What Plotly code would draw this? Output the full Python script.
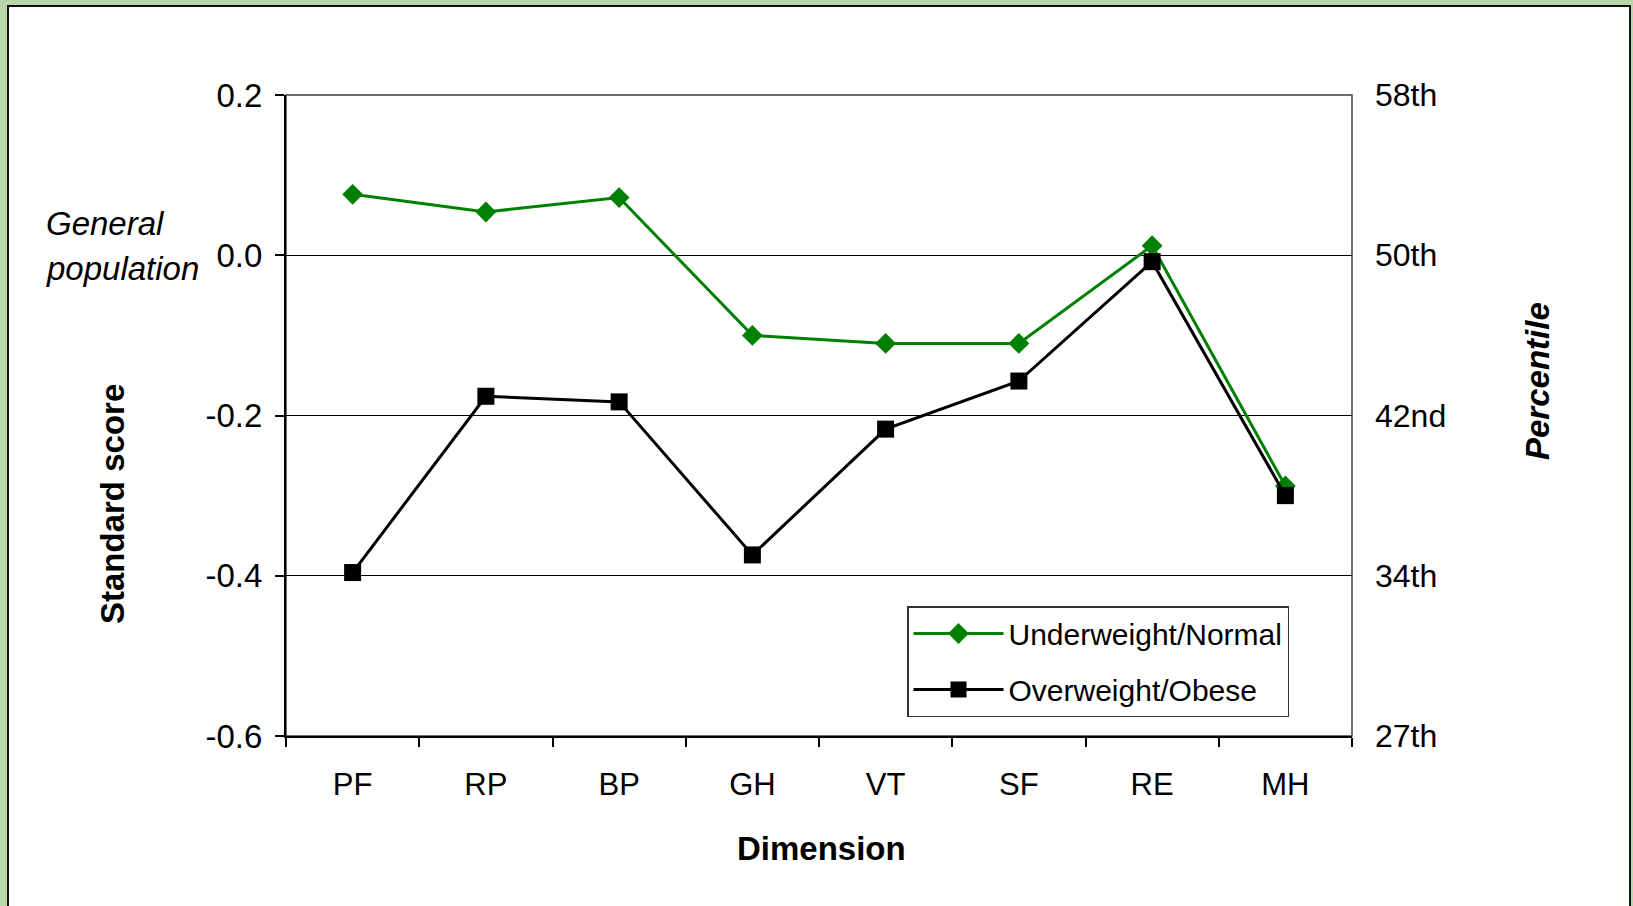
import plotly.graph_objects as go

# ---- data ----
categories = ["PF", "RP", "BP", "GH", "VT", "SF", "RE", "MH"]
underweight_normal = [0.076, 0.054, 0.072, -0.100, -0.110, -0.110, 0.012, -0.288]
overweight_obese = [-0.396, -0.176, -0.183, -0.374, -0.217, -0.157, -0.008, -0.300]
series_names = ["Underweight/Normal", "Overweight/Obese"]
score_ticks = [-0.6, -0.4, -0.2, 0.0, 0.2]
score_tick_labels = ["-0.6", "-0.4", "-0.2", "0.0", "0.2"]
pct_ticks = [0.2, 0.0, -0.2, -0.4, -0.6]
pct_tick_labels = ["58th", "50th", "42nd", "34th", "27th"]

FONT = "Liberation Sans, Arial, sans-serif"
W, H = 1633, 906
L, R, T, B = 286, 1352, 95, 736


def px(xp):
    return (xp - L) / (R - L)


def py(yp):
    return (B - yp) / (B - T)


fig = go.Figure()
fig.add_trace(go.Scatter(
    x=categories, y=underweight_normal, name=series_names[0], mode="lines+markers",
    line=dict(color="#008000", width=3),
    marker=dict(symbol="diamond", size=16, color="#008000"),
    legendgroup="a",
))
fig.add_trace(go.Scatter(
    x=categories, y=overweight_obese, name=series_names[1], mode="lines+markers",
    line=dict(color="#000000", width=3),
    marker=dict(symbol="square", size=17, color="#000000"),
    legendgroup="b",
))
# invisible trace to anchor the percentile axis
fig.add_trace(go.Scatter(
    x=categories, y=underweight_normal, yaxis="y2", mode="lines",
    line=dict(width=0), opacity=0, showlegend=False, hoverinfo="skip",
))

fig.update_layout(
    width=W, height=H,
    margin=dict(l=L, r=W - R, t=T, b=H - B),
    paper_bgcolor="#b9d6aa",
    plot_bgcolor="white",
    font=dict(family=FONT, color="black", size=30),
    showlegend=True,
    legend=dict(
        x=px(907), y=py(606), xanchor="left", yanchor="top",
        bgcolor="white", bordercolor="#333333", borderwidth=1.5,
        font=dict(family=FONT, size=30, color="black"),
        itemwidth=90, tracegroupgap=14,
    ),
    xaxis=dict(
        type="category", range=[-0.5, 7.5],
        tickson="boundaries", ticks="outside", ticklen=9, tickwidth=1.5, tickcolor="black",
        showline=True, linecolor="black", linewidth=2,
        showgrid=False, zeroline=False,
        tickfont=dict(size=31), ticklabelstandoff=20,
    ),
    yaxis=dict(
        range=[-0.6, 0.2], tickvals=score_ticks, ticktext=score_tick_labels,
        ticks="outside", ticklen=9, tickwidth=1.5, tickcolor="black",
        showline=True, linecolor="black", linewidth=2,
        showgrid=True, gridcolor="black", gridwidth=1, zeroline=False,
        tickfont=dict(size=33), ticklabelstandoff=6,
    ),
    yaxis2=dict(
        overlaying="y", side="right", range=[-0.6, 0.2],
        tickvals=pct_ticks, ticktext=pct_tick_labels,
        ticks="", showline=False, showgrid=False, zeroline=False,
        tickfont=dict(size=32), ticklabelstandoff=22,
    ),
    shapes=[
        dict(type="rect", xref="paper", yref="paper",
             x0=px(8), x1=px(1630), y0=py(6), y1=py(920),
             fillcolor="white", line=dict(color="#111111", width=2), layer="below"),
        dict(type="rect", xref="paper", yref="paper", x0=0, x1=1, y0=0, y1=1,
             line=dict(color="#404040", width=1.5), layer="below"),
    ],
    annotations=[
        dict(text="<i>General</i>", xref="paper", yref="paper", x=px(44), y=py(224),
             xanchor="left", yanchor="middle", showarrow=False, font=dict(size=33)),
        dict(text="<i>population</i>", xref="paper", yref="paper", x=px(44), y=py(268),
             xanchor="left", yanchor="middle", showarrow=False, font=dict(size=33)),
        dict(text="<b>Standard score</b>", xref="paper", yref="paper", x=px(112), y=py(504),
             xanchor="center", yanchor="middle", textangle=-90, showarrow=False,
             font=dict(size=33)),
        dict(text="<b><i>Percentile</i></b>", xref="paper", yref="paper", x=px(1537), y=py(381),
             xanchor="center", yanchor="middle", textangle=-90, showarrow=False,
             font=dict(size=33)),
        dict(text="<b>Dimension</b>", xref="paper", yref="paper", x=px(821), y=py(848),
             xanchor="center", yanchor="middle", showarrow=False, font=dict(size=33)),
    ],
)

fig.write_html("out.html", config={"displayModeBar": False},
               post_script="document.body.style.margin='0px';")
